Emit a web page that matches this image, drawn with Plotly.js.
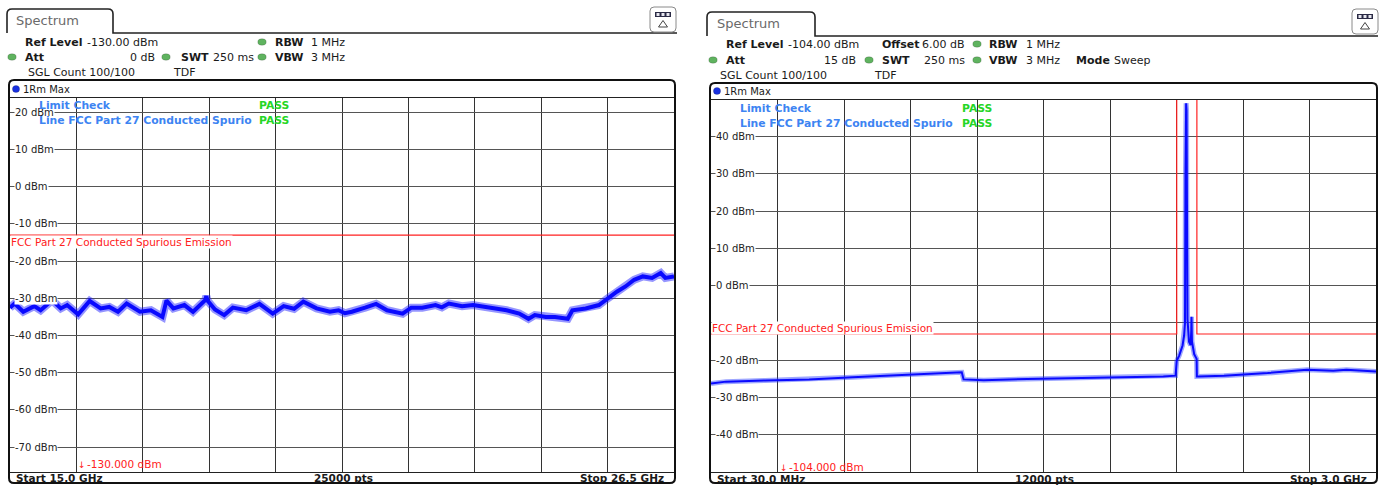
<!DOCTYPE html>
<html>
<head>
<meta charset="utf-8">
<script src="https://cdn.plot.ly/plotly-3.0.1.min.js"></script>
<style>
html,body{margin:0;padding:0;background:#fff;}
#chart{width:1385px;height:485px;}
</style>
</head>
<body>
<div id="chart"></div>
<script>
// ---------------- DATA ----------------
// Left screen: 15.0 GHz .. 26.5 GHz, max-hold trace
const leftFreqGHz = [15.00, 15.08, 15.23, 15.42, 15.53, 15.73, 15.88, 15.99, 16.18, 16.38, 16.57, 16.72, 16.87, 17.02, 17.25, 17.44, 17.64, 17.71, 17.83, 18.02, 18.17, 18.38, 18.40, 18.42, 18.55, 18.71, 18.86, 19.09, 19.32, 19.55, 19.74, 19.92, 20.08, 20.31, 20.54, 20.69, 20.80, 20.92, 21.15, 21.34, 21.53, 21.80, 21.95, 22.14, 22.37, 22.48, 22.60, 22.83, 23.02, 23.21, 23.37, 23.60, 23.82, 23.98, 24.09, 24.28, 24.44, 24.66, 24.74, 24.97, 25.20, 25.35, 25.51, 25.66, 25.81, 25.96, 26.12, 26.27, 26.35, 26.50];
const leftLevelDbm = [-32.5, -31.4, -33.6, -32.1, -33.2, -30.5, -32.7, -31.8, -34.3, -30.7, -32.7, -32.3, -33.6, -31.4, -33.6, -33.2, -35.0, -30.6, -32.7, -31.8, -33.6, -30.5, -29.4, -30.6, -33.0, -34.5, -32.5, -33.2, -31.5, -34.1, -32.1, -32.8, -30.9, -32.7, -33.6, -33.2, -34.0, -33.6, -32.5, -31.5, -33.2, -34.1, -32.5, -32.5, -31.8, -32.4, -31.4, -32.1, -31.8, -32.3, -32.5, -33.2, -34.1, -35.5, -34.5, -35.0, -35.0, -35.5, -33.2, -32.7, -31.8, -30.0, -28.2, -26.8, -25.0, -24.1, -24.5, -23.2, -24.5, -24.1];
const leftLimitFreqGHz = [15.0, 26.5];
const leftLimitDbm = [-13, -13];
const leftTickDbm = [20, 10, 0, -10, -20, -30, -40, -50, -60, -70];

// Right screen: 30 MHz .. 3.0 GHz, max-hold trace
const rightFreqMHz = [30, 97, 272, 468, 663, 858, 1014, 1150, 1158, 1248, 1443, 1638, 1833, 2050, 2105, 2110, 2121, 2136, 2143, 2147, 2149, 2150, 2152, 2154, 2155, 2158, 2165, 2172, 2175, 2176, 2178, 2188, 2199, 2200, 2208, 2321, 2516, 2692, 2809, 2868, 3000];
const rightLevelDbm = [-26.3, -25.8, -25.5, -25.2, -24.6, -24.0, -23.6, -23.3, -25.2, -25.4, -25.1, -24.9, -24.7, -24.4, -24.2, -20.2, -18.8, -16.1, -13.4, -10.0, 30.0, 48.5, 49.0, 47.0, 20.0, -9.0, -15.1, -16.0, -12.0, -8.4, -15.0, -18.4, -19.7, -24.4, -24.4, -24.2, -23.5, -22.6, -22.9, -22.6, -23.1];
const rightLimitFreqMHz = [30, 2110, 2110, 2200, 2200, 3000];
const rightLimitDbm = [-13, -13, 60, 60, -13, -13];
// -10 dBm label is hidden under the limit-line name in the reference
const rightTickDbm = [40, 30, 20, 10, 0, -20, -30, -40];

// ---------------- helpers ----------------
const W = 1385, H = 485;
const px = x => x / W;
const py = y => 1 - y / H;
const P = (x, y) => px(x) + ',' + py(y);
const FONT = 'DejaVu Sans';

function roundRect(x0, y0, x1, y1, r) {
  return 'M ' + P(x0 + r, y0) + ' L ' + P(x1 - r, y0) + ' Q ' + P(x1, y0) + ' ' + P(x1, y0 + r) +
    ' L ' + P(x1, y1 - r) + ' Q ' + P(x1, y1) + ' ' + P(x1 - r, y1) +
    ' L ' + P(x0 + r, y1) + ' Q ' + P(x0, y1) + ' ' + P(x0, y1 - r) +
    ' L ' + P(x0, y0 + r) + ' Q ' + P(x0, y0) + ' ' + P(x0 + r, y0) + ' Z';
}
function tabPath(x0, y0, x1, yb, xEnd) {
  const r = 5;
  return 'M ' + P(x0, yb) + ' L ' + P(x0, y0 + r) + ' Q ' + P(x0, y0) + ' ' + P(x0 + r, y0) +
    ' L ' + P(x1 - r, y0) + ' Q ' + P(x1, y0) + ' ' + P(x1, y0 + r) +
    ' L ' + P(x1, yb) + ' L ' + P(xEnd, yb);
}

const annotations = [];
function txt(text, x, y, o) {
  o = o || {};
  annotations.push({
    text: text, xref: 'paper', yref: 'paper', x: px(x), y: py(y),
    xanchor: o.anchor || 'left', yanchor: 'middle', showarrow: false,
    font: {family: FONT, size: o.size || 11, color: o.color || '#1a1a1a'},
    bgcolor: o.bg || 'rgba(0,0,0,0)', borderpad: 0
  });
}
const shapes = [];
function dot(cx, cy, color, rx, ry) {
  shapes.push({type: 'circle', xref: 'paper', yref: 'paper',
    x0: px(cx - rx), x1: px(cx + rx), y0: py(cy + ry), y1: py(cy - ry),
    fillcolor: color, line: {color: 'rgba(0,0,0,0.35)', width: 0.5}});
}
function icon(x0, y0) {
  shapes.push({type: 'path', xref: 'paper', yref: 'paper', path: roundRect(x0, y0, x0 + 26, y0 + 25, 4),
    line: {color: '#8a8a8a', width: 1}, fillcolor: 'white'});
  shapes.push({type: 'rect', xref: 'paper', yref: 'paper', x0: px(x0 + 5), x1: px(x0 + 21), y0: py(y0 + 10), y1: py(y0 + 5),
    fillcolor: '#2b2b45', line: {width: 0}});
  [0, 1, 2].forEach(i => shapes.push({type: 'rect', xref: 'paper', yref: 'paper',
    x0: px(x0 + 6.5 + i * 5), x1: px(x0 + 9.5 + i * 5), y0: py(y0 + 9), y1: py(y0 + 6),
    fillcolor: '#e8e8f0', line: {width: 0}}));
  shapes.push({type: 'path', xref: 'paper', yref: 'paper',
    path: 'M ' + P(x0 + 8.5, y0 + 20) + ' L ' + P(x0 + 13, y0 + 13.5) + ' L ' + P(x0 + 17.5, y0 + 20) + ' Z',
    line: {color: '#444', width: 1}});
}

// ---------------- frames ----------------
shapes.push({type: 'path', xref: 'paper', yref: 'paper', path: tabPath(7, 9, 113, 33, 677), line: {color: '#222', width: 1.6}});
shapes.push({type: 'path', xref: 'paper', yref: 'paper', path: roundRect(9, 80, 675, 483, 5), line: {color: '#111', width: 2}});
icon(650, 7);
shapes.push({type: 'path', xref: 'paper', yref: 'paper', path: tabPath(707, 12, 815, 36, 1378), line: {color: '#222', width: 1.6}});
shapes.push({type: 'path', xref: 'paper', yref: 'paper', path: roundRect(710, 83, 1377, 483, 5), line: {color: '#111', width: 2}});
icon(1352, 9);

dot(16, 89, '#1830e0', 3.6, 3.6);
dot(717, 91, '#1830e0', 3.6, 3.6);
[[12, 57], [166, 57], [262, 42], [262, 57], [713, 60], [869, 60], [977, 44], [977, 60]].forEach(d => dot(d[0], d[1], '#5fb35f', 4.2, 3.2));

// ---------------- axis labels (inside the grid) ----------------
leftTickDbm.forEach(v => annotations.push({
  text: v + ' dBm', xref: 'paper', yref: 'y', x: px(14), y: v, xanchor: 'left', yanchor: 'middle',
  showarrow: false, font: {family: FONT, size: 10, color: '#222'}, bgcolor: 'white', borderpad: 0
}));
rightTickDbm.forEach(v => annotations.push({
  text: v + ' dBm', xref: 'paper', yref: 'y2', x: px(715), y: v, xanchor: 'left', yanchor: 'middle',
  showarrow: false, font: {family: FONT, size: 10, color: '#222'}, bgcolor: 'white', borderpad: 0
}));

// ---------------- texts: left ----------------
const BLUE = '#3d84f2', GREEN = '#25d625', RED = '#ff2020';
txt('Spectrum', 15, 21, {size: 13, color: '#6a6a6a'});
txt('<b>Ref Level</b>', 24, 42);
txt('-130.00 dBm', 86, 42);
txt('<b>RBW</b>', 274, 42);
txt('1 MHz', 310, 42);
txt('<b>Att</b>', 24, 57);
txt('0 dB', 156, 57, {anchor: 'right'});
txt('<b>SWT</b>', 180, 57);
txt('250 ms', 212, 57);
txt('<b>VBW</b>', 274, 57);
txt('3 MHz', 310, 57);
txt('SGL Count 100/100', 27, 72);
txt('TDF', 172, 72);
txt('1Rm Max', 22, 89, {size: 10});
txt('FCC Part 27 Conducted Spurious Emission', 10, 242, {size: 10.5, color: RED, bg: 'white'});
txt('<b>Limit Check</b>', 38, 105, {size: 10.8, color: BLUE});
txt('<b>PASS</b>', 258, 105, {size: 10.8, color: GREEN});
txt('<b>Line FCC Part 27 Conducted Spurio</b>', 38, 120, {size: 10.8, color: BLUE});
txt('<b>PASS</b>', 258, 120, {size: 10.8, color: GREEN});
txt('\u2193', 82, 465, {size: 9, color: RED, anchor: 'center'});
txt('-130.000 dBm', 86, 464, {size: 10.5, color: RED});
txt('<b>Start 15.0 GHz</b>', 15, 478, {size: 10.5});
txt('<b>25000 pts</b>', 343, 478, {size: 10.5, anchor: 'center'});
txt('<b>Stop 26.5 GHz</b>', 665, 478, {size: 10.5, anchor: 'right'});

// ---------------- texts: right ----------------
txt('Spectrum', 716, 23, {size: 13, color: '#6a6a6a'});
txt('<b>Ref Level</b>', 725, 44);
txt('-104.00 dBm', 787, 44);
txt('<b>Offset</b>', 881, 44);
txt('6.00 dB', 966, 44, {anchor: 'right'});
txt('<b>RBW</b>', 988, 44);
txt('1 MHz', 1025, 44);
txt('<b>Att</b>', 725, 60);
txt('15 dB', 857, 60, {anchor: 'right'});
txt('<b>SWT</b>', 881, 60);
txt('250 ms', 966, 60, {anchor: 'right'});
txt('<b>VBW</b>', 988, 60);
txt('3 MHz', 1025, 60);
txt('<b>Mode</b>', 1075, 60);
txt('Sweep', 1113, 60);
txt('SGL Count 100/100', 719, 75);
txt('TDF', 873, 75);
txt('1Rm Max', 723, 91, {size: 10});
txt('FCC Part 27 Conducted Spurious Emission', 711, 328, {size: 10.5, color: RED, bg: 'white'});
txt('<b>Limit Check</b>', 739, 108, {size: 10.8, color: BLUE});
txt('<b>PASS</b>', 961, 108, {size: 10.8, color: GREEN});
txt('<b>Line FCC Part 27 Conducted Spurio</b>', 739, 123, {size: 10.8, color: BLUE});
txt('<b>PASS</b>', 961, 123, {size: 10.8, color: GREEN});
txt('\u2193', 784, 468, {size: 9, color: RED, anchor: 'center'});
txt('-104.000 dBm', 788, 467, {size: 10.5, color: RED});
txt('<b>Start 30.0 MHz</b>', 716, 479, {size: 10.5});
txt('<b>12000 pts</b>', 1044, 479, {size: 10.5, anchor: 'center'});
txt('<b>Stop 3.0 GHz</b>', 1368, 479, {size: 10.5, anchor: 'right'});

// ---------------- traces ----------------
const TRACE = '#0a0aff';
const traces = [
  {x: leftLimitFreqGHz, y: leftLimitDbm, xaxis: 'x', yaxis: 'y', mode: 'lines',
   line: {color: RED, width: 1.2}, hoverinfo: 'skip'},
  // noise halo + core of the max-hold trace
  {x: leftFreqGHz, y: leftLevelDbm, xaxis: 'x', yaxis: 'y', mode: 'lines',
   line: {color: 'rgba(20,20,255,0.45)', width: 8}, hoverinfo: 'skip'},
  {x: leftFreqGHz, y: leftLevelDbm, xaxis: 'x', yaxis: 'y', mode: 'lines',
   line: {color: TRACE, width: 4}, hoverinfo: 'skip'},
  {x: rightLimitFreqMHz, y: rightLimitDbm, xaxis: 'x2', yaxis: 'y2', mode: 'lines',
   line: {color: RED, width: 1.2}, hoverinfo: 'skip'},
  {x: rightFreqMHz, y: rightLevelDbm, xaxis: 'x2', yaxis: 'y2', mode: 'lines',
   line: {color: 'rgba(40,60,255,0.45)', width: 5}, hoverinfo: 'skip'},
  {x: rightFreqMHz, y: rightLevelDbm, xaxis: 'x2', yaxis: 'y2', mode: 'lines',
   line: {color: TRACE, width: 2}, hoverinfo: 'skip'}
];

const axisCommon = {
  showticklabels: false, ticks: '', zeroline: false, showgrid: true,
  showline: true, mirror: true, linecolor: '#222', linewidth: 1, fixedrange: true
};
const layout = {
  width: W, height: H, margin: {l: 0, r: 0, t: 0, b: 0, pad: 0},
  paper_bgcolor: 'white', plot_bgcolor: 'white', showlegend: false,
  xaxis: Object.assign({}, axisCommon, {domain: [px(10), px(674)], range: [15, 26.5],
    tick0: 15, dtick: 1.15, gridcolor: '#333', gridwidth: 1, anchor: 'y'}),
  yaxis: Object.assign({}, axisCommon, {domain: [py(471.7), py(97.5)], range: [-76.6, 24],
    tick0: 0, dtick: 10, gridcolor: '#555', gridwidth: 1, anchor: 'x'}),
  xaxis2: Object.assign({}, axisCommon, {domain: [px(711), px(1376)], range: [30, 3000],
    tick0: 30, dtick: 297, gridcolor: '#333', gridwidth: 1, anchor: 'y2'}),
  yaxis2: Object.assign({}, axisCommon, {domain: [py(471.7), py(99.5)], range: [-50, 50],
    tick0: 0, dtick: 10, gridcolor: '#555', gridwidth: 1, anchor: 'x2'}),
  shapes: shapes,
  annotations: annotations
};

Plotly.newPlot('chart', traces, layout, {staticPlot: true, displayModeBar: false});
</script>
</body>
</html>
